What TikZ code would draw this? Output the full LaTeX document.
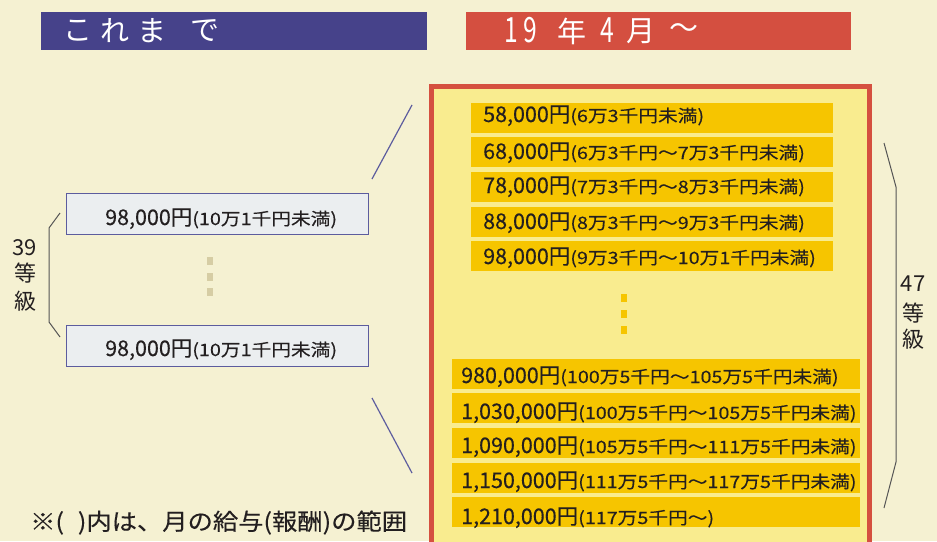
\documentclass[tikz,border=0pt]{standalone}
\usepackage{fontspec}
\setmainfont{Noto Sans CJK JP}
\newfontfamily\jpbig[FakeBold=0.3]{Noto Sans CJK JP}
\newfontfamily\jpsmall[FakeStretch=1.16,FakeBold=0.3]{Noto Sans CJK JP}
\newfontfamily\jpnote[FakeStretch=1.1,FakeBold=0.3]{Noto Sans CJK JP}
\definecolor{bgc}{HTML}{F5F1D2}
\definecolor{hblue}{HTML}{46428A}
\definecolor{hred}{HTML}{D44F40}
\definecolor{frred}{HTML}{D5503F}
\definecolor{frfill}{HTML}{F9EC8F}
\definecolor{ybox}{HTML}{F6C500}
\definecolor{lbfill}{HTML}{EBEEF0}
\definecolor{lbdraw}{HTML}{5C5C9E}
\definecolor{ldot}{HTML}{D6CDA4}
\definecolor{txt}{HTML}{231F20}
\definecolor{brc}{HTML}{555555}
\newcommand\amt[2]{{\jpbig\fontsize{21.5}{21.5}\selectfont #1}{\jpsmall\fontsize{17}{17}\selectfont #2}}
\newcommand\hdig[1]{\scalebox{0.85}[1.2]{#1}}
\tikzset{
  hbar/.style={minimum height=38pt, anchor=north west, inner sep=0pt, outer sep=0pt},
  htxt/.style={text=white, font=\fontsize{29}{29}\selectfont, inner sep=0pt},
  yrow/.style={fill=ybox, minimum height=30pt, anchor=north west, inner sep=0pt, outer sep=0pt},
  lbox/.style={fill=lbfill, draw=lbdraw, line width=1pt, minimum width=302pt, minimum height=41pt, anchor=north west, inner sep=0pt},
  rtxt/.style={anchor=base west, inner sep=0pt, text=txt},
  lbl/.style={text=txt, font=\fontsize{22}{22}\selectfont, inner sep=0pt},
  bracel/.style={draw=brc, line width=1pt},
  diag/.style={draw=lbdraw, line width=1.2pt},
}
\begin{document}
\begin{tikzpicture}[x=1pt,y=-1pt]
\useasboundingbox (0,0) rectangle (937,541);
\fill[bgc] (0,0) rectangle (937,541);
% headers
\node[hbar, fill=hblue, minimum width=386pt] (hL) at (41,12) {};
\node[htxt] (hL1) at (78,31) {こ};
\node[htxt] (hL2) at (115,31) {れ};
\node[htxt] (hL3) at (152,31) {ま};
\node[htxt] (hL4) at (205,31) {で};
\node[hbar, fill=hred, minimum width=385pt] (hR) at (466,12) {};
\node[htxt] (hR1) at (511,30) {\hdig{1}};
\node[htxt] (hR2) at (530,30) {\hdig{9}};
\node[htxt] (hR3) at (572,31) {年};
\node[htxt] (hR4) at (607,30) {\hdig{4}};
\node[htxt] (hR5) at (641,31) {月};
\node[htxt] (hR6) at (684,31) {～};
% red frame
\draw[draw=frred, fill=frfill, line width=5pt] (431.5,86.5) rectangle (869.5,600);
% top yellow rows
\node[yrow, minimum width=362pt] (a1) at (471,103) {};
\node[yrow, minimum width=362pt] (a2) at (471,137) {};
\node[yrow, minimum width=362pt] (a3) at (471,172) {};
\node[yrow, minimum width=362pt] (a4) at (471,207) {};
\node[yrow, minimum width=362pt] (a5) at (471,241) {};
\node[rtxt] (ta1) at (483,122) {\amt{58,000円}{(6万3千円未満)}};
\node[rtxt] (ta2) at (483,159) {\amt{68,000円}{(6万3千円～7万3千円未満)}};
\node[rtxt] (ta3) at (483,193) {\amt{78,000円}{(7万3千円～8万3千円未満)}};
\node[rtxt] (ta4) at (483,229) {\amt{88,000円}{(8万3千円～9万3千円未満)}};
\node[rtxt] (ta5) at (483,264) {\amt{98,000円}{(9万3千円～10万1千円未満)}};
% right dots
\fill[ybox] (621,294) rectangle (627,302);
\fill[ybox] (621,310) rectangle (627,318);
\fill[ybox] (621,326) rectangle (627,334);
% bottom yellow rows
\node[yrow, minimum width=408pt] (b1) at (452,359) {};
\node[yrow, minimum width=408pt] (b2) at (452,393) {};
\node[yrow, minimum width=408pt] (b3) at (452,428) {};
\node[yrow, minimum width=408pt] (b4) at (452,463) {};
\node[yrow, minimum width=408pt] (b5) at (452,497) {};
\node[rtxt] (tb1) at (461,383) {\amt{980,000円}{(100万5千円～105万5千円未満)}};
\node[rtxt] (tb2) at (461,419) {\amt{1,030,000円}{(100万5千円～105万5千円未満)}};
\node[rtxt] (tb3) at (461,453) {\amt{1,090,000円}{(105万5千円～111万5千円未満)}};
\node[rtxt] (tb4) at (461,488) {\amt{1,150,000円}{(111万5千円～117万5千円未満)}};
\node[rtxt] (tb5) at (461,524) {\amt{1,210,000円}{(117万5千円～)}};
% left boxes
\node[lbox] (l1) at (66,193) {};
\node[lbox] (l2) at (66,325) {};
\node[rtxt] (tl1) at (105,225) {\amt{98,000円}{(10万1千円未満)}};
\node[rtxt] (tl2) at (105,356) {\amt{98,000円}{(10万1千円未満)}};
% left dots
\fill[ldot] (207,257) rectangle (213,265);
\fill[ldot] (207,273) rectangle (213,281);
\fill[ldot] (207,288) rectangle (213,296);
% diagonal connectors
\coordinate (d1a) at (372,179);
\coordinate (d1b) at (412,105);
\coordinate (d2a) at (372,398);
\coordinate (d2b) at (412,473);
\draw[diag] (d1a) -- (d1b);
\draw[diag] (d2a) -- (d2b);
% left brace
\coordinate (lb1) at (60,213);
\coordinate (lb2) at (49,228);
\coordinate (lb3) at (49,322);
\coordinate (lb4) at (60,337);
\draw[bracel] (lb1) -- (lb2) -- (lb3) -- (lb4);
\node[lbl] (n39) at (25,248) {39};
\node[lbl] (n39b) at (25,273) {等};
\node[lbl] (n39c) at (25,301) {級};
% right brace
\coordinate (rb1) at (884,143);
\coordinate (rb2) at (896,187);
\coordinate (rb3) at (896,462);
\coordinate (rb4) at (884,508);
\draw[bracel] (rb1) -- (rb2) -- (rb3) -- (rb4);
\node[lbl] (n47) at (913,284) {47};
\node[lbl] (n47b) at (913,313) {等};
\node[lbl] (n47c) at (913,339) {級};
% note
\node[anchor=base west, inner sep=0pt, text=txt, font=\jpnote\fontsize{23}{23}\selectfont] (note) at (30,530) {※(\hspace{0.6em})内は、月の給与(報酬)の範囲};
\end{tikzpicture}
\end{document}
